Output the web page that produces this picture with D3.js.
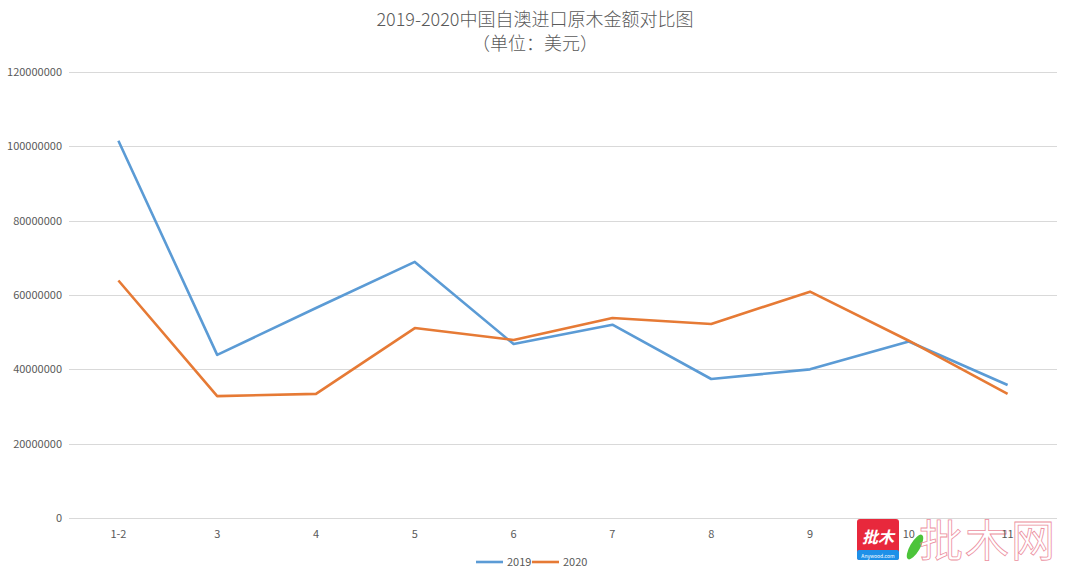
<!DOCTYPE html>
<html lang="zh">
<head>
<meta charset="UTF-8">
<title>2019-2020中国自澳进口原木金额对比图</title>
<style>
    body { margin: 0; background: #fff; }
    text { font-family: "Noto Sans CJK SC", "Open Sans", sans-serif; fill: #595959; }
    .grid line { stroke: #d9d9d9; stroke-width: 1px; }
    .series { fill: none; stroke-width: 2.6px; stroke-linejoin: round; }
</style>
</head>
<body>
<script src="https://d3js.org/d3.v7.min.js"></script>
<script>
    // 月份与两年数据（美元）
    const months = ["1-2", "3", "4", "5", "6", "7", "8", "9", "10", "11"];
    const values2019 = [101500000, 43900000, 56500000, 68900000, 46800000, 52000000, 37400000, 40000000, 47500000, 35800000];
    const values2020 = [63900000, 32800000, 33400000, 51100000, 47900000, 53800000, 52200000, 60900000, 47700000, 33400000];
    const yTicks = [0, 20000000, 40000000, 60000000, 80000000, 100000000, 120000000];
    const seriesNames = ["2019", "2020"];
    const colors = ["#5b9bd5", "#e67a35"];

    const width = 1070, height = 578;
    const margin = {top: 72, right: 13, bottom: 60, left: 69};

    const svg = d3.select("body").append("svg")
        .attr("width", width)
        .attr("height", height);

    const x = d3.scaleBand()
        .domain(months)
        .range([margin.left, width - margin.right]);

    const y = d3.scaleLinear()
        .domain([0, 120000000])
        .range([height - margin.bottom, margin.top]);

    // 水印（先画，放在最底层）
    const wm = svg.append("g").attr("transform", "translate(857,519)");
    wm.append("rect")
        .attr("width", 42).attr("height", 41).attr("rx", 3)
        .attr("fill", "#e8283c");
    wm.append("rect")
        .attr("y", 31).attr("width", 42).attr("height", 10).attr("rx", 2)
        .attr("fill", "#1e90e8");
    wm.append("text")
        .attr("x", 21).attr("y", 24)
        .attr("text-anchor", "middle")
        .style("font-size", "16px")
        .style("font-weight", "bold")
        .style("font-style", "italic")
        .style("fill", "#fff")
        .text("批木");
    wm.append("text")
        .attr("x", 21).attr("y", 39)
        .attr("text-anchor", "middle")
        .style("font-size", "5px")
        .style("fill", "#fff")
        .text("Anywood.com");
    wm.append("ellipse")
        .attr("cx", 58).attr("cy", 28).attr("rx", 5).attr("ry", 14)
        .attr("transform", "rotate(30,58,28)")
        .attr("fill", "#4cc43a");
    wm.append("text")
        .attr("x", 62).attr("y", 38)
        .style("font-size", "44px")
        .style("fill", "none")
        .style("stroke", "#ec8fa0")
        .style("stroke-width", 0.8)
        .style("letter-spacing", "2px")
        .text("批木网");

    // 网格线
    svg.append("g")
        .attr("class", "grid")
        .selectAll("line")
        .data(yTicks)
        .join("line")
        .attr("x1", margin.left)
        .attr("x2", width - margin.right)
        .attr("y1", d => Math.round(y(d)) + 0.5)
        .attr("y2", d => Math.round(y(d)) + 0.5);

    // y轴标签
    svg.append("g")
        .selectAll("text")
        .data(yTicks)
        .join("text")
        .attr("x", margin.left - 7)
        .attr("y", d => y(d))
        .attr("dy", "0.35em")
        .attr("text-anchor", "end")
        .style("font-size", "11px")
        .text(d => d);

    // x轴标签
    svg.append("g")
        .selectAll("text")
        .data(months)
        .join("text")
        .attr("x", d => x(d) + x.bandwidth() / 2)
        .attr("y", height - margin.bottom + 16)
        .attr("dy", "0.35em")
        .attr("text-anchor", "middle")
        .style("font-size", "11px")
        .text(d => d);

    // 折线
    const line = d3.line()
        .x((d, i) => x(months[i]) + x.bandwidth() / 2)
        .y(d => y(d));

    [values2019, values2020].forEach((vals, k) => {
        svg.append("path")
            .attr("class", "series")
            .attr("stroke", colors[k])
            .attr("d", line(vals));
    });

    // 标题
    svg.append("text")
        .attr("x", width / 2)
        .attr("y", 26)
        .attr("text-anchor", "middle")
        .style("font-size", "18px")
        .style("font-weight", 300)
        .text("2019-2020中国自澳进口原木金额对比图");

    svg.append("text")
        .attr("x", width / 2)
        .attr("y", 50)
        .attr("text-anchor", "middle")
        .style("font-size", "18px")
        .style("font-weight", 300)
        .text("（单位：美元）");

    // 图例
    const legend = svg.append("g")
        .attr("transform", "translate(476,562)");
    seriesNames.forEach((name, k) => {
        const g = legend.append("g").attr("transform", `translate(${k * 56},0)`);
        g.append("line")
            .attr("x1", 0).attr("x2", 27)
            .attr("stroke", colors[k])
            .attr("stroke-width", 2.6);
        g.append("text")
            .attr("x", 31)
            .attr("dy", "0.35em")
            .style("font-size", "11px")
            .text(name);
    });
</script>
</body>
</html>
